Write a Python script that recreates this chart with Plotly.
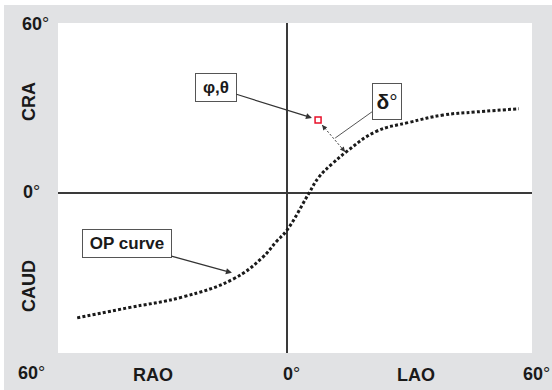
import plotly.graph_objects as go

# OP curve (degrees: x = RAO(-)/LAO(+), y = CAUD(-)/CRA(+))
op_x = [-51.4, -39.2, -25.5, -13.2, -6.1, -2.7, 0.0, 5.4, 7.8, 11.3, 14.5, 21.8, 29.9, 38.2, 46.3, 56.8]
op_y = [-44.1, -40.6, -36.7, -30.4, -22.9, -17.3, -13.1, 0.0, 5.6, 10.6, 14.5, 21.7, 24.9, 27.5, 28.6, 29.7]

# view point (phi, theta)
pt_x = [7.6]
pt_y = [25.8]

# delta distance segment (point -> curve)
delta_x = [8.6, 14.2]
delta_y = [24.0, 14.5]

x_range = [-56.1, 60]
y_range = [-56.5, 60]

FONT = "Liberation Sans, Arial, sans-serif"
GRAY = "#e1e2e4"
W, H = 552, 390
L, R, T, B = 58, 20, 23, 37
PW, PH = W - L - R, H - T - B


def px(xp, yp):
    return (xp - L) / PW, (H - B - yp) / PH


fig = go.Figure()

fig.add_trace(go.Scatter(
    x=op_x, y=op_y, mode="lines", line_shape="spline",
    line=dict(color="#1a1a1a", width=3, dash="3px,2.2px", smoothing=1.2),
    hoverinfo="skip", showlegend=False))

fig.add_trace(go.Scatter(
    x=delta_x, y=delta_y, mode="lines",
    line=dict(color="#333333", width=1, dash="2px,2px"),
    hoverinfo="skip", showlegend=False))

fig.add_trace(go.Scatter(
    x=pt_x, y=pt_y, mode="markers",
    marker=dict(symbol="square", size=6, color="white",
                line=dict(color="#e8102a", width=1.5)),
    hoverinfo="skip", showlegend=False))

ann = []
# arrowheads of delta segment
ann.append(dict(x=delta_x[1], y=delta_y[1], xref="x", yref="y", text="",
                showarrow=True, arrowhead=2, arrowsize=1, arrowwidth=1,
                arrowcolor="#333", ax=-4, ay=-5))
ann.append(dict(x=delta_x[0], y=delta_y[0], xref="x", yref="y", text="",
                showarrow=True, arrowhead=2, arrowsize=1, arrowwidth=1,
                arrowcolor="#333", ax=4, ay=5))

box = dict(bordercolor="#555", borderwidth=1, borderpad=0, bgcolor="white",
           showarrow=True, arrowcolor="#333", arrowwidth=1.2, xref="x", yref="y",
           font=dict(family=FONT, color="#1a1a1a"))

# phi,theta label
ann.append(dict(box, x=6.1, y=26.5, ax=-96, ay=-30, text="<b>φ,θ</b>",
                width=40, height=27, arrowhead=2, arrowsize=1,
                font=dict(family=FONT, size=17, color="#1a1a1a")))
# delta label
ann.append(dict(box, x=11.8, y=19.4, ax=52, ay=-37, text="<b>δ</b>°",
                width=28, height=35, arrowhead=0, arrowcolor="#555", arrowwidth=1,
                font=dict(family=FONT, size=21, color="#1a1a1a")))
# OP curve label
ann.append(dict(box, x=-13.5, y=-28.2, ax=-105, ay=-29, text="<b>OP curve</b>",
                width=88, height=27, arrowhead=2, arrowsize=1,
                font=dict(family=FONT, size=17, color="#1a1a1a")))

# axis text labels
labels = [
    ("<b>60</b>°", 35, 24, 0),
    ("<b>0</b>°", 31, 192, 0),
    ("<b>60</b>°", 31, 373, 0),
    ("<b>RAO</b>", 153, 375, 0),
    ("<b>0</b>°", 291, 374, 0),
    ("<b>LAO</b>", 416, 375, 0),
    ("<b>60</b>°", 536, 374, 0),
    ("<b>CRA</b>", 29, 102, -90),
    ("<b>CAUD</b>", 29, 286, -90),
]
for txt, xp, yp, ang in labels:
    xx, yy = px(xp, yp)
    ann.append(dict(x=xx, y=yy, xref="paper", yref="paper", text=txt,
                    showarrow=False, xanchor="center", yanchor="middle",
                    textangle=ang,
                    font=dict(family=FONT, size=18, color="#1a1a1a")))

# thin white page border at top and left
x0, y0 = px(0, 0)
x4, y5 = px(4, 5)
x1, y1 = px(W, H)
shapes = [
    dict(type="rect", xref="paper", yref="paper", x0=x0, x1=x1, y0=y5, y1=y0,
         fillcolor="white", line=dict(width=0), layer="above"),
    dict(type="rect", xref="paper", yref="paper", x0=x0, x1=x4, y0=y1, y1=y0,
         fillcolor="white", line=dict(width=0), layer="above"),
]

fig.update_layout(
    width=W, height=H,
    margin=dict(l=L, r=R, t=T, b=B, pad=0),
    paper_bgcolor=GRAY, plot_bgcolor="white",
    annotations=ann, shapes=shapes, showlegend=False,
    xaxis=dict(range=x_range, showgrid=False, showticklabels=False, ticks="",
               zeroline=True, zerolinecolor="#3a3a3a", zerolinewidth=2,
               showline=False, fixedrange=True),
    yaxis=dict(range=y_range, showgrid=False, showticklabels=False, ticks="",
               zeroline=True, zerolinecolor="#3a3a3a", zerolinewidth=2,
               showline=False, fixedrange=True),
)

fig.write_html("out.html", config={"displayModeBar": False})

# remove the default page margin so the figure sits at the window origin
with open("out.html", "r", encoding="utf-8") as f:
    html = f.read()
html = html.replace("<body>", '<body style="margin:0;padding:0;overflow:hidden;">', 1)
with open("out.html", "w", encoding="utf-8") as f:
    f.write(html)
